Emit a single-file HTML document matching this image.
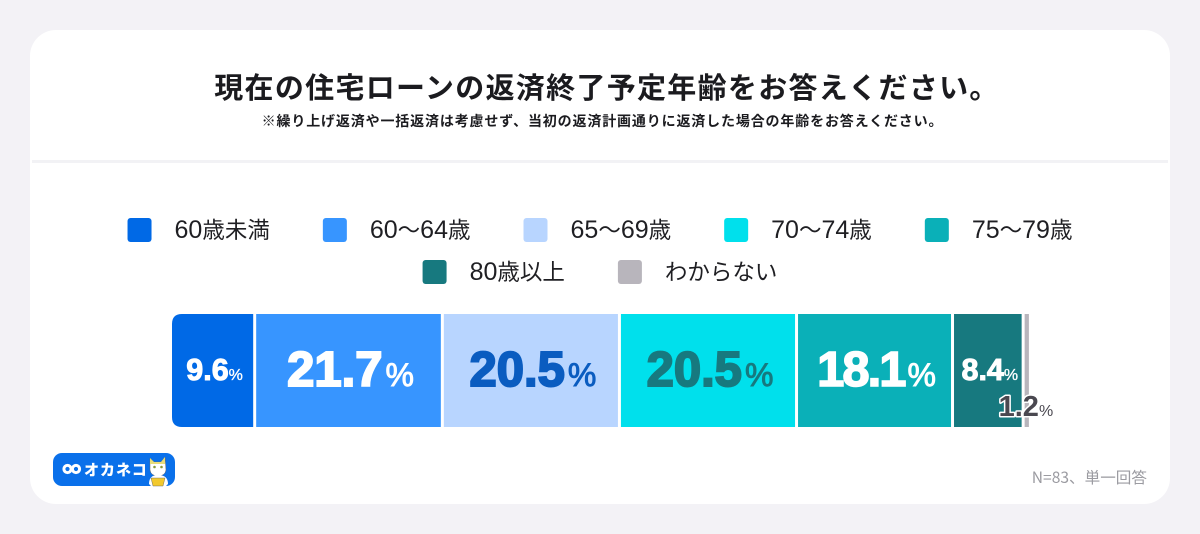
<!DOCTYPE html>
<html lang="ja">
<head>
<meta charset="utf-8">
<title>現在の住宅ローンの返済終了予定年齢</title>
<style>
html,body{margin:0;padding:0;background:#f3f2f6;width:1200px;height:534px;overflow:hidden}
svg{display:block}
text{font-family:"Liberation Sans","Noto Sans CJK JP",sans-serif}
.jp{font-family:"Noto Sans CJK JP","Liberation Sans",sans-serif}
</style>
</head>
<body>
<svg id="chart" width="1200" height="534" viewBox="0 0 1200 534" xmlns="http://www.w3.org/2000/svg">
  <rect x="30" y="30" width="1140" height="474" rx="26" fill="#fff"/>
  <text class="jp" x="607" y="98" text-anchor="middle" font-size="29" font-weight="700" letter-spacing="1.3" fill="#1b1b1f">現在の住宅ローンの返済終了予定年齢をお答えください。</text>
  <text class="jp" x="602.5" y="126" text-anchor="middle" font-size="14" font-weight="700" letter-spacing="0.85" fill="#1b1b1f">※繰り上げ返済や一括返済は考慮せず、当初の返済計画通りに返済した場合の年齢をお答えください。</text>
  <rect x="32" y="160" width="1136" height="3" fill="#f2f2f5"/>
  <g id="legend"></g>
  <g id="bars"></g>
  <g id="labels"></g>
  <g>
    <rect x="53" y="453" width="122" height="33" rx="9" fill="#0a70ea"/>
    <g fill="none" stroke="#fff" stroke-width="3">
      <circle cx="67.5" cy="469" r="3.6"/>
      <circle cx="76" cy="469" r="3.6"/>
    </g>
    <text class="jp" x="84" y="475" font-size="15" font-weight="900" letter-spacing="1" fill="#fff">オカネコ</text>
    <g>
      <path d="M150 470 L150 458 L154 462 L161 462 L165 457 L166 470 Q165 476 158 476 Q151 476 150 470Z" fill="#fff" stroke="#666" stroke-width=".5"/>
      <path d="M150 458 L154 462 L161 462 L165 457 L165 464 L150 464Z" fill="#e8dc7a"/>
      <circle cx="154.500" cy="467" r="1.300" fill="#8a9a3a"/>
      <circle cx="161.500" cy="467" r="1.300" fill="#8a9a3a"/>
      <path d="M149 484 Q149 475 158 475 Q168 475 168 484 L166 486 L151 486Z" fill="#fff"/>
      <path d="M151 478 L165 478 L163 486 L153 486Z" fill="#f2c92e" stroke="#555" stroke-width=".4"/>
    </g>
  </g>
  <text class="jp" x="1147" y="483" text-anchor="end" font-size="15.600" fill="#9b9ba1">N=83、単一回答</text>
</svg>
<script>
const categories = ["60歳未満", "60〜64歳", "65〜69歳", "70〜74歳", "75〜79歳", "80歳以上", "わからない"];
const seriesValues = [9.6, 21.7, 20.5, 20.5, 18.1, 8.4, 1.2];
const seriesColors = ["#0069e6", "#3795ff", "#b8d5ff", "#00e0ec", "#0ab0b8", "#17797f", "#b8b5bc"];
const labelColors = ["#ffffff", "#ffffff", "#0a5cc0", "#17797f", "#ffffff", "#ffffff", "#4a4850"];

const NS = "http://www.w3.org/2000/svg";
const BAR_TOP = 314, BAR_H = 113, BAR_LEFT = 172, GAP = 3, LEAD = 3;

function xLen(v) { return 8.8 * v - 3.3; }
function make(tag, attrs, parent) {
  const el = document.createElementNS(NS, tag);
  for (const k in attrs) el.setAttribute(k, attrs[k]);
  parent.appendChild(el);
  return el;
}

/* legend: two centred rows, laid out from measured text */
const legend = document.getElementById("legend");
const rows = [categories.slice(0, 5), categories.slice(5)];
let colorIndex = 0;
rows.forEach(function (row, r) {
  const cy = 230 + r * 42;
  const items = row.map(function (name) {
    const g = make("g", {}, legend);
    
    
    const sw = make("rect", { width: 24, height: 24, rx: 3, y: cy - 12, fill: seriesColors[colorIndex++] }, g);
    
    
    const t = make("text", { y: cy + 8, "font-size": 22.5, fill: "#1f1f23" }, g);
    
    
    name.split(/(\d+)/).forEach(function (part) {
      if (!part) return;
      if (/^\d+$/.test(part)) {
        const d = make("tspan", { "font-size": 25 }, t);
        d.textContent = part;
      } else {
        t.appendChild(document.createTextNode(part));
      }
    });
    return { sw: sw, t: t, w: 47 + t.getComputedTextLength() };
  });
  const gapX = 53;
  const total = items.reduce(function (s, i) { return s + i.w; }, 0) + gapX * (items.length - 1);
  let x = 600 - total / 2;
  items.forEach(function (i) {
    i.sw.setAttribute("x", x);
    i.t.setAttribute("x", x + 47);
    x += i.w + gapX;
  });
});

/* stacked bar */
const bars = document.getElementById("bars");
const labels = document.getElementById("labels");
let cursor = BAR_LEFT + LEAD;
seriesValues.forEach(function (v, i) {
  const first = i === 0;
  const left = first ? BAR_LEFT : cursor;
  const right = cursor + xLen(v) - GAP;
  const w = right - left;
  let seg;
  if (first) {
    const r = 10;
    seg = make("path", {
      d: "M" + (left + r) + " " + BAR_TOP + " H" + right + " V" + (BAR_TOP + BAR_H) + " H" + (left + r) +
         " Q" + left + " " + (BAR_TOP + BAR_H) + " " + left + " " + (BAR_TOP + BAR_H - r) +
         " V" + (BAR_TOP + r) + " Q" + left + " " + BAR_TOP + " " + (left + r) + " " + BAR_TOP + "Z",
      fill: seriesColors[i]
    }, bars);
  } else {
    seg = make("rect", { x: left, y: BAR_TOP, width: Math.max(w, 0), height: BAR_H, fill: seriesColors[i] }, bars);
  }
  
  

  const big = v >= 15, tiny = v < 3;
  const size = big ? 49 : (tiny ? 29 : 30.5);
  const pct = big ? 32 : 16;
  const cx = tiny ? right - 3 : (left + right) / 2 + 2;
  const base = tiny ? 416 : (big ? 386 : 380);
  const label = v.toFixed(1);
  const ones = label.split("1").length - 1;
  const attrs = {
    x: cx, y: base, "text-anchor": "middle", "font-weight": 700, "font-size": size, fill: labelColors[i],
    stroke: labelColors[i], "stroke-width": big ? 2 : 1
  };
  if (big && ones > 1) {
    attrs["letter-spacing"] = -2;
    attrs["stroke-width"] = 1.5;
  }
  if (tiny) {
    attrs.stroke = "#ffffff";
    attrs["stroke-width"] = 3;
    attrs["paint-order"] = "stroke";
    attrs["stroke-linejoin"] = "round";
  }
  const t = make("text", attrs, labels);
  
  
  t.appendChild(document.createTextNode(label));
  const sp = make("tspan", { "font-size": pct, "font-weight": 400, dx: big ? 3 : 0, "stroke-width": big ? 0.9 : 0.3, "letter-spacing": 0 }, t);
  sp.textContent = "%";
  if (tiny) { sp.setAttribute("stroke", "none"); }
  cursor = cursor + xLen(v);
});
</script>
</body>
</html>
